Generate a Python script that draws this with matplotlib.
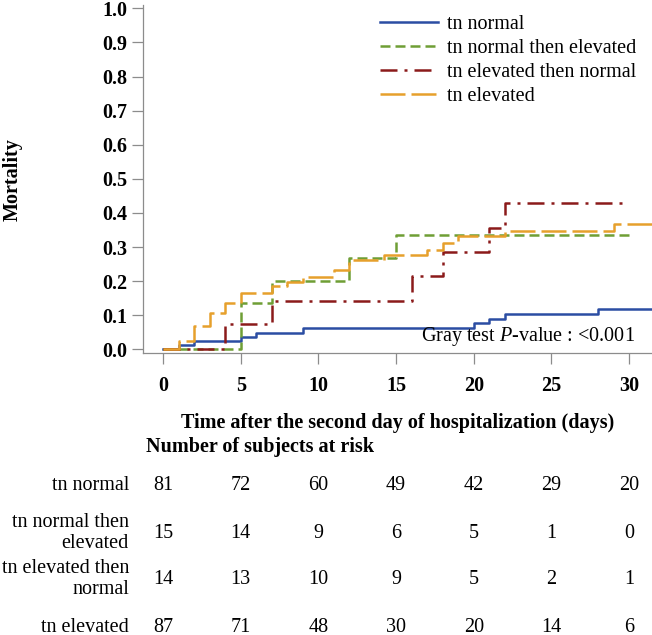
import matplotlib
matplotlib.use("Agg")
import matplotlib.pyplot as plt
import matplotlib.transforms as mtransforms

plt.rcParams['font.family'] = ['Liberation Serif', 'DejaVu Serif']
plt.rcParams['mathtext.fontset'] = 'custom'
plt.rcParams['mathtext.rm'] = 'Liberation Serif'
plt.rcParams['mathtext.it'] = 'Liberation Serif:italic'

# cumulative incidence curves (day, value)
normal_t = [0, 1, 2, 5, 6, 9, 20, 21, 22, 28, 31.5]
normal_y = [0, 0.012, 0.025, 0.037, 0.049, 0.062, 0.077, 0.088, 0.103, 0.117, 0.117]

norm_elev_t = [0, 5, 7, 12, 15, 30]
norm_elev_y = [0, 0.135, 0.201, 0.267, 0.334, 0.334]

elev_norm_t = [0, 4, 7, 16, 18, 21, 22, 30]
elev_norm_y = [0, 0.074, 0.143, 0.215, 0.286, 0.357, 0.43, 0.43]

elevated_t = [0, 1, 2, 3, 4, 5, 7, 8, 9, 11, 12, 14.2, 17, 18, 19, 22, 29, 31.5]
elevated_y = [0, 0.025, 0.068, 0.106, 0.137, 0.164, 0.186, 0.197, 0.211, 0.233,
              0.262, 0.277, 0.29, 0.312, 0.331, 0.348, 0.367, 0.367]

labels = ["tn normal", "tn normal then elevated", "tn elevated then normal", "tn elevated"]
risk_labels = ["tn normal", "tn normal then\nelevated", "tn elevated then\nnormal", "tn elevated"]
risk_times = [0, 5, 10, 15, 20, 25, 30]
risk_counts = [
    [81, 72, 60, 49, 42, 29, 20],
    [15, 14, 9, 6, 5, 1, 0],
    [14, 13, 10, 9, 5, 2, 1],
    [87, 71, 48, 30, 20, 14, 6],
]

colors = ['#2b4da3', '#6f9e35', '#8b1a1a', '#e6a02c']
dashes = [None, (4, 2), (6.8, 2.8, 1.2, 2.8), (10, 2.4)]

W, H = 652, 635
fig = plt.figure(figsize=(W / 100, H / 100), dpi=100)
ax = fig.add_axes([143 / W, (H - 353.3) / H, (W - 143) / W, 348.4 / H])

curves = [(normal_t, normal_y), (norm_elev_t, norm_elev_y),
          (elev_norm_t, elev_norm_y), (elevated_t, elevated_y)]
for (t, y), c, d, lab in zip(curves, colors, dashes, labels):
    line, = ax.step(t, y, where='post', color=c, lw=1.8, label=lab)
    if d is not None:
        line.set_dashes(d)

ax.set_xlim(-1.29, 31.47)
ax.set_ylim(-0.0117, 1.01)
ax.set_xticks(risk_times)
ax.set_yticks([i / 10 for i in range(11)])
ax.set_yticklabels([f"{i / 10:.1f}" for i in range(11)])
for s in ['top', 'right']:
    ax.spines[s].set_visible(False)
for s in ['left', 'bottom']:
    ax.spines[s].set_color('#8c8c8c')
    ax.spines[s].set_linewidth(0.9)
ax.tick_params(colors='#8c8c8c', length=8, width=0.9, labelcolor='black', labelsize=14.5)
ax.tick_params(axis='x', pad=8)
ax.tick_params(axis='y', pad=3.6)
for lab in ax.get_xticklabels() + ax.get_yticklabels():
    lab.set_fontweight('bold')

ax.set_ylabel("Mortality", fontsize=14.5, fontweight='bold')
ax.yaxis.set_label_coords(-0.236, 0.5)

ax.legend(loc='upper left', bbox_to_anchor=(0.4656, 0.971), frameon=False,
          borderpad=0, borderaxespad=0, handlelength=2.9, handletextpad=0.45,
          labelspacing=0.25, fontsize=14.5)

ax.text(0.9666, 0.048, "Gray test $P$-value : <0.001", transform=ax.transAxes,
        ha='right', va='center', fontsize=14.5)

fig.text((143 + W) / 2 / W, 1 - 423 / H,
         "Time after the second day of hospitalization (days)",
         ha='center', va='center', fontsize=14.5, fontweight='bold')
fig.text(146 / W, 1 - 447 / H, "Number of subjects at risk",
         ha='left', va='center', fontsize=14.5, fontweight='bold')

trans = mtransforms.blended_transform_factory(ax.transData, fig.transFigure)
row_y = [485, 533, 579, 627]
for lab, counts, yy in zip(risk_labels, risk_counts, row_y):
    fig.text(129 / W, 1 - yy / H, lab, ha='right', va='center',
             fontsize=14.5, linespacing=1.2)
    for t, n in zip(risk_times, counts):
        ax.text(t, 1 - yy / H, str(n), transform=trans, ha='center',
                va='center', fontsize=14.5, clip_on=False)

fig.savefig("out.png", dpi=100)
